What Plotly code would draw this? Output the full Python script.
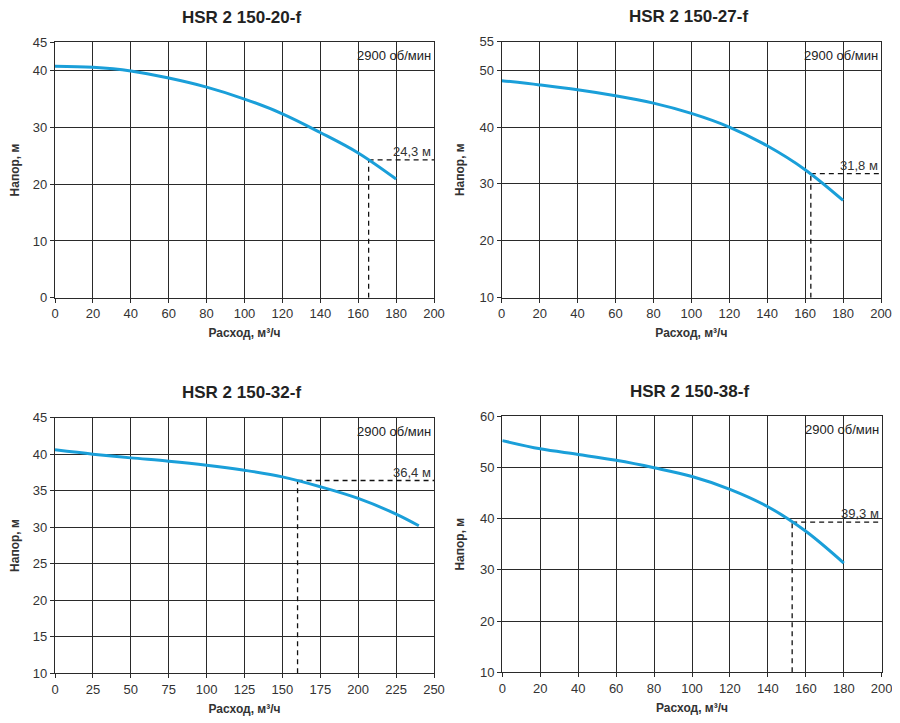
import plotly.graph_objects as go

# ---- data ----
titles = ["HSR 2 150-20-f", "HSR 2 150-27-f", "HSR 2 150-32-f", "HSR 2 150-38-f"]

flow_20 = [0, 20, 40, 60, 80, 100, 120, 140, 160, 180]
head_20 = [40.8, 40.6, 39.95, 38.7, 37.1, 35.0, 32.4, 29.1, 25.5, 20.9]

flow_27 = [0, 20, 40, 60, 80, 100, 120, 140, 160, 180]
head_27 = [48.15, 47.4, 46.55, 45.5, 44.2, 42.4, 40.0, 36.7, 32.5, 27.1]

flow_32 = [0, 25, 50, 75, 100, 125, 150, 175, 200, 225, 240]
head_32 = [40.6, 40.0, 39.5, 39.05, 38.5, 37.8, 36.9, 35.55, 33.95, 31.8, 30.2]

flow_38 = [0, 20, 40, 60, 80, 100, 120, 140, 160, 180]
head_38 = [55.2, 53.6, 52.5, 51.35, 49.9, 48.2, 45.7, 42.3, 37.5, 31.3]

duty_flow = [165.5, 163, 160, 152.8]
duty_head = [24.3, 31.8, 36.4, 39.3]
duty_labels = ["24,3 м", "31,8 м", "36,4 м", "39,3 м"]

x_ranges = [[0, 200], [0, 200], [0, 250], [0, 200]]
x_dticks = [20, 20, 25, 20]
y_ranges = [[0, 45], [10, 55], [10, 45], [10, 60]]
y_tickvals = [[0, 10, 20, 30, 40, 45], [10, 20, 30, 40, 50, 55],
              [10, 15, 20, 25, 30, 35, 40, 45], [10, 20, 30, 40, 50, 60]]

speed_label = "2900 об/мин"
x_title = "Расход, м³/ч"
y_title = "Напор, м"

flows = [flow_20, flow_27, flow_32, flow_38]
heads = [head_20, head_27, head_32, head_38]

# ---- layout geometry ----
W, H = 900, 723
OFF = 8  # page body margin compensation
px_boxes = [  # left, right, top, bottom in page pixels
    (55, 434, 42.3, 297.7),
    (501.7, 881, 41.7, 297.7),
    (55, 434, 417.7, 673.3),
    (502.3, 881.7, 416, 672.3),
]

CURVE = "#1a9fd9"
GRID = "#2a2a2a"
TXT = "#333333"
FONT = "Liberation Sans, Arial, sans-serif"

fig = go.Figure()
layout = dict(
    width=W, height=H, margin=dict(l=0, r=0, t=0, b=0, autoexpand=False),
    paper_bgcolor="white", plot_bgcolor="white", showlegend=False,
    font=dict(family=FONT, size=12, color=TXT),
)
annotations = []

for i in range(4):
    xa = "xaxis" if i == 0 else f"xaxis{i+1}"
    ya = "yaxis" if i == 0 else f"yaxis{i+1}"
    xr = "x" if i == 0 else f"x{i+1}"
    yr = "y" if i == 0 else f"y{i+1}"
    l, r, t, b = [v - OFF for v in px_boxes[i]]
    layout[xa] = dict(
        domain=[l / W, r / W], range=x_ranges[i], dtick=x_dticks[i], tick0=0,
        showgrid=True, gridcolor=GRID, gridwidth=1.3, zeroline=False,
        showline=True, linecolor=GRID, linewidth=1.3, mirror=True,
        ticks="outside", ticklen=4, tickcolor=GRID, anchor=yr, automargin=False,
        tickfont=dict(size=13, color=TXT, family=FONT), fixedrange=True,
        title=dict(text=f"<b>{x_title}</b>", standoff=8,
                   font=dict(size=12, color=TXT, family=FONT)),
    )
    layout[ya] = dict(
        domain=[1 - b / H, 1 - t / H], range=y_ranges[i], tickvals=y_tickvals[i],
        showgrid=True, gridcolor=GRID, gridwidth=1.3, zeroline=False,
        showline=True, linecolor=GRID, linewidth=1.3, mirror=True,
        ticks="outside", ticklen=4, tickcolor=GRID, anchor=xr, automargin=False,
        tickfont=dict(size=13, color=TXT, family=FONT), fixedrange=True,
        title=dict(text=f"<b>{y_title}</b>", standoff=12,
                   font=dict(size=12, color=TXT, family=FONT)),
    )
    # dashed duty lines
    fig.add_trace(go.Scatter(
        x=[duty_flow[i], duty_flow[i]], y=[y_ranges[i][0], duty_head[i]],
        mode="lines", line=dict(color="#111", width=1.3, dash="5px,4px"),
        xaxis=xr, yaxis=yr, hoverinfo="skip"))
    fig.add_trace(go.Scatter(
        x=[duty_flow[i], x_ranges[i][1]], y=[duty_head[i], duty_head[i]],
        mode="lines", line=dict(color="#111", width=1.3, dash="5px,4px"),
        xaxis=xr, yaxis=yr, hoverinfo="skip"))
    # pump curve
    fig.add_trace(go.Scatter(
        x=flows[i], y=heads[i], mode="lines", line_shape="spline",
        line=dict(color=CURVE, width=3), xaxis=xr, yaxis=yr))
    # duty label
    annotations.append(dict(
        x=x_ranges[i][1], y=duty_head[i], xref=xr, yref=yr,
        text=duty_labels[i], showarrow=False, xanchor="right", yanchor="bottom",
        yshift=-1, xshift=-1, font=dict(size=13, color=TXT, family=FONT)))
    # speed label
    annotations.append(dict(
        x=x_ranges[i][1], y=y_ranges[i][1], xref=xr, yref=yr,
        text=speed_label, showarrow=False, xanchor="right", yanchor="top",
        xshift=-1, yshift=-4, font=dict(size=13, color="#222", family=FONT)))
    # title
    annotations.append(dict(
        x=(l + r) / 2 / W - 0.003, y=1 - (t - 25) / H, xref="paper", yref="paper",
        text=f"<b>{titles[i]}</b>", showarrow=False, xanchor="center", yanchor="middle",
        font=dict(size=17, color="#222", family=FONT)))

layout["annotations"] = annotations
fig.update_layout(**layout)
fig.write_html("out.html")
